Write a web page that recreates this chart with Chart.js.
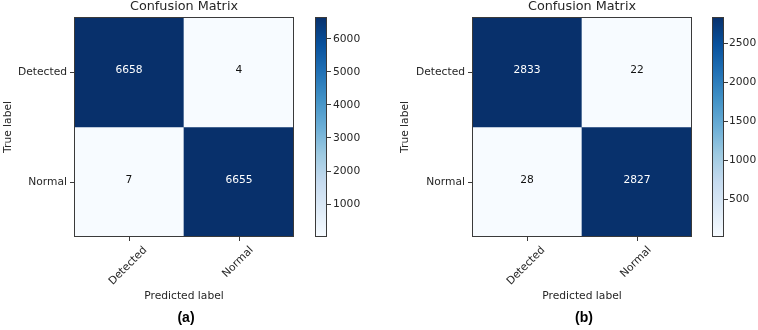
<!DOCTYPE html>
<html>
<head>
<meta charset="utf-8">
<script src="https://cdn.jsdelivr.net/npm/chart.js@4.4.1/dist/chart.umd.min.js"></script>
<style>
	body { margin: 0; background: #fff; }
	#wrap { position: relative; width: 758px; height: 330px; overflow: hidden; }
	canvas { position: absolute; top: 0; }
</style>
</head>
<body>
<div id="wrap">
	<canvas id="cmA" style="left:0px" width="380" height="330"></canvas>
	<canvas id="cbA" style="left:305px" width="60" height="330"></canvas>
	<canvas id="cmB" style="left:380px" width="378" height="330"></canvas>
	<canvas id="cbB" style="left:702px" width="56" height="330"></canvas>
</div>
<script>
var classes = ['Detected', 'Normal'];
// rows = true label, columns = predicted label
var matrixA = [[6658, 4], [7, 6655]];
var matrixB = [[2833, 22], [28, 2827]];
var colorTicksA = [1000, 2000, 3000, 4000, 5000, 6000];
var colorTicksB = [500, 1000, 1500, 2000, 2500];
var captionA = '(a)';
var captionB = '(b)';

var FONT = "'DejaVu Sans', sans-serif";
var frameColor = '#3a3a3a';

// matplotlib "Blues"
var blues = ['#f7fbff', '#deebf7', '#c6dbef', '#9ecae1', '#6baed6', '#4292c6', '#2171b5', '#08519c', '#08306b'];

function hexToRgb(h) {
	return [parseInt(h.substr(1, 2), 16), parseInt(h.substr(3, 2), 16), parseInt(h.substr(5, 2), 16)];
}
function bluesAt(t) {
	t = Math.max(0, Math.min(1, t));
	var p = t * (blues.length - 1);
	var i = Math.min(Math.floor(p), blues.length - 2);
	var f = p - i;
	var a = hexToRgb(blues[i]), b = hexToRgb(blues[i + 1]);
	var c = a.map(function(v, k) { return Math.round(v + (b[k] - v) * f); });
	return 'rgb(' + c.join(',') + ')';
}

function frame(chart) {
	var a = chart.chartArea;
	var ctx = chart.ctx;
	ctx.save();
	ctx.strokeStyle = frameColor;
	ctx.lineWidth = 1;
	ctx.strokeRect(Math.round(a.left) + 0.5, Math.round(a.top) + 0.5, Math.round(a.right - a.left) - 1, Math.round(a.bottom - a.top) - 1);
	ctx.restore();
}

function plotMatrix(elementId, matrix, caption, yAxisWidth, padRight) {
	var flat = [].concat.apply([], matrix);
	var vmin = Math.min.apply(null, flat);
	var vmax = Math.max.apply(null, flat);
	var datasets = matrix.map(function(row, r) {
		return {
			label: classes[r],
			data: row.map(function() { return [r, r + 1]; }),
			backgroundColor: row.map(function(v) { return bluesAt((v - vmin) / (vmax - vmin)); }),
			borderWidth: 0,
			barPercentage: 1,
			categoryPercentage: 1,
			grouped: false
		};
	});

	var labelsPlugin = {
		id: 'cmLabels',
		afterDatasetsDraw: function(chart) {
			var ctx = chart.ctx;
			var area = chart.chartArea;
			var xs = chart.scales.x;
			frame(chart);
			ctx.save();
			// cell values
			ctx.font = '10.7px ' + FONT;
			ctx.textAlign = 'center';
			ctx.textBaseline = 'middle';
			matrix.forEach(function(row, r) {
				var meta = chart.getDatasetMeta(r);
				row.forEach(function(v, c) {
					var bar = meta.data[c];
					var cy = (bar.y + bar.base) / 2;
					ctx.fillStyle = v > vmax / 2 ? '#ffffff' : '#111111';
					ctx.fillText(String(v), bar.x, cy - 2);
				});
			});
			// rotated x tick labels, centered like matplotlib
			ctx.fillStyle = '#262626';
			classes.forEach(function(name, i) {
				var x = xs.getPixelForTick(i);
				var w = ctx.measureText(name).width;
				var h = (w + 10) * Math.SQRT1_2;
				var cy = area.bottom + 8 + h / 2;
				ctx.save();
				ctx.translate(x - 1, cy);
				ctx.rotate(-Math.PI / 4);
				ctx.fillText(name, 0, 0);
				ctx.restore();
			});
			var cx = (area.left + area.right) / 2;
			ctx.fillText('Predicted label', cx, 296);
			ctx.save();
			ctx.translate(area.left - 66 + (chart.canvas.id === 'cmB' ? -1 : 0), (area.top + area.bottom) / 2);
			ctx.rotate(-Math.PI / 2);
			ctx.fillText('True label', 0, 0);
			ctx.restore();
			ctx.font = '12.8px ' + FONT;
			ctx.fillText('Confusion Matrix', cx, 7);
			ctx.font = "bold 14px 'Liberation Sans', Arial, sans-serif";
			ctx.fillStyle = '#000';
			ctx.fillText(caption, cx + 2, 318);
			ctx.restore();
		}
	};

	var ctx = document.getElementById(elementId).getContext('2d');
	return new Chart(ctx, {
		type: 'bar',
		data: { labels: classes, datasets: datasets },
		options: {
			responsive: false,
			animation: false,
			layout: { padding: { top: 17, bottom: 89, left: 0, right: padRight } },
			plugins: { legend: { display: false }, tooltip: { enabled: false } },
			scales: {
				x: {
					type: 'category',
					offset: true,
					grid: { display: true, drawOnChartArea: false, offset: false, tickLength: 4, color: frameColor, tickColor: frameColor },
					border: { display: false },
					ticks: { display: false },
					afterFit: function(scale) { scale.height = 4; }
				},
				y: {
					type: 'linear',
					min: 0,
					max: 2,
					reverse: true,
					grid: { display: true, drawOnChartArea: false, tickLength: 4, color: frameColor, tickColor: frameColor },
					border: { display: false },
					ticks: {
						padding: 3,
						color: '#262626',
						font: { family: FONT, size: 10.7 },
						callback: function(value) { return classes[Math.floor(value)]; }
					},
					afterBuildTicks: function(scale) {
						scale.ticks = classes.map(function(c, i) { return { value: i + 0.5 }; });
					},
					afterFit: function(scale) { scale.width = yAxisWidth; }
				}
			}
		},
		plugins: [labelsPlugin]
	});
}

function plotColorbar(elementId, matrix, ticks, padLeft, barWidth, tickPad) {
	var flat = [].concat.apply([], matrix);
	var vmin = Math.min.apply(null, flat);
	var vmax = Math.max.apply(null, flat);
	var canvas = document.getElementById(elementId);
	var ctx = canvas.getContext('2d');
	return new Chart(ctx, {
		type: 'bar',
		data: {
			labels: [''],
			datasets: [{
				data: [[vmin, vmax]],
				borderWidth: 0,
				barPercentage: 1,
				categoryPercentage: 1,
				backgroundColor: function(c) {
					var area = c.chart.chartArea;
					if (!area) return blues[4];
					var g = c.chart.ctx.createLinearGradient(0, area.bottom, 0, area.top);
					blues.forEach(function(col, i) { g.addColorStop(i / (blues.length - 1), col); });
					return g;
				}
			}]
		},
		options: {
			responsive: false,
			animation: false,
			layout: { padding: { top: 17, bottom: 93, left: padLeft, right: 0 } },
			plugins: { legend: { display: false }, tooltip: { enabled: false } },
			scales: {
				x: { display: false },
				y: {
					type: 'linear',
					position: 'right',
					min: vmin,
					max: vmax,
					grid: { display: true, drawOnChartArea: false, tickLength: 4, color: frameColor, tickColor: frameColor },
					border: { display: false },
					ticks: {
						padding: tickPad,
						color: '#262626',
						font: { family: FONT, size: 10.7 },
						callback: function(value) { return String(value); }
					},
					afterBuildTicks: function(scale) {
						scale.ticks = ticks.map(function(v) { return { value: v }; });
					},
					afterFit: function(scale) { scale.width = canvas.width - padLeft - barWidth; }
				}
			}
		},
		plugins: [{ id: 'cbFrame', afterDatasetsDraw: frame }]
	});
}

var chartA = plotMatrix('cmA', matrixA, captionA, 74, 86);
var barA = plotColorbar('cbA', matrixA, colorTicksA, 10, 12, 2);
var chartB = plotMatrix('cmB', matrixB, captionB, 92, 66);
var barB = plotColorbar('cbB', matrixB, colorTicksB, 10, 12, 1);
</script>
</body>
</html>
